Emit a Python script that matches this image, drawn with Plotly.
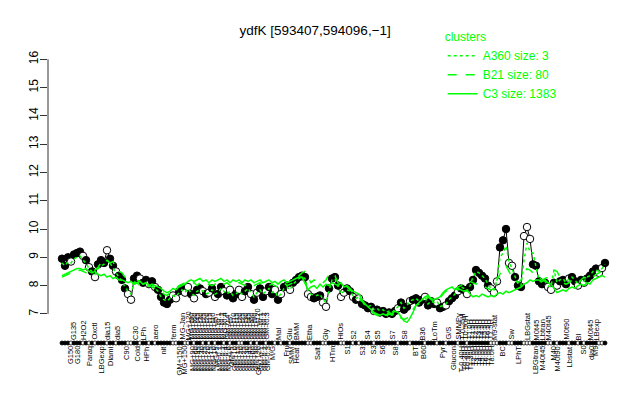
import plotly.graph_objects as go

# ---------------- data ----------------
expr = [8.95, 8.7, 9.0, 8.85, 9.1, 9.15, 9.2, 9.05, 8.9, 8.65,
        8.5, 8.3, 8.75, 8.9, 8.8, 9.25, 8.95, 8.7, 8.5, 8.35,
        8.2, 7.9, 7.7, 7.5, 8.25, 8.35, 8.25, 8.1, 8.2, 8.05,
        8.15, 7.95, 7.85, 7.6, 7.4, 7.35, 7.5, 7.65, 7.55, 7.8,
        7.9, 7.75, 7.95, 7.7, 7.55, 7.85, 7.9, 7.8, 7.7, 7.75,
        7.9, 7.6, 7.7, 7.95, 7.8, 7.65, 7.85, 7.55, 7.7, 7.85,
        7.6, 7.8, 7.95, 7.7, 7.5, 7.75, 7.9, 7.6, 7.8, 7.95,
        7.7, 7.85, 7.5, 7.7, 7.95, 8.0, 7.85, 8.1, 8.2, 8.3,
        8.35, 8.3, 7.7, 7.6, 7.55, 7.6, 7.65, 7.4, 7.25, 7.9,
        8.25, 8.3, 8.0, 7.6, 7.75, 7.9, 7.8, 7.6, 7.5, 7.55,
        7.35, 7.3, 7.2, 7.25, 7.1, 7.15, 7.05, 7.1, 7.0, 7.05,
        7.0, 7.1, 7.2, 7.4, 7.15, 7.25, 7.45, 7.5, 7.55, 7.4,
        7.5, 7.6, 7.3, 7.45, 7.35, 7.4, 7.2, 7.25, 7.3, 7.45,
        7.55, 7.65, 7.8, 7.9, 7.85, 7.7, 7.95, 8.2, 8.55, 8.45,
        8.35, 8.25, 8.0, 7.9, 7.75, 8.15, 9.35, 9.6, 10.0, 8.8,
        8.7, 8.3, 8.0, 7.95, 9.75, 10.07, 9.65, 8.75, 8.7, 8.15,
        8.05, 8.1, 7.95, 7.85, 8.1, 8.0, 8.15, 8.2, 8.05, 8.25,
        8.3, 8.15, 8.0, 8.2, 8.1, 8.25, 8.35, 8.5, 8.6, 8.45, 8.62, 8.8]

filled_flags = ("1110111010" "1011101101" "1100110110" "1011111001" "1001011010"
                "1011010110" "0110101101" "1010110111" "1100111001" "1110011010"
                "1111011111" "1101110111" "1011101101" "1101101111" "1110001110"
                "0111000111" "1100101110" "1101011110" "01")
filled = [c == "1" for c in filled_flags]

c3_mean = [8.35, 8.4, 8.45, 8.5, 8.55, 8.6, 8.6, 8.55, 8.6, 8.5,
           8.45, 8.5, 8.4, 8.35, 8.4, 8.3, 8.35, 8.25, 8.3, 8.2,
           8.2, 8.15, 8.1, 8.15, 8.05, 8.1, 8.15, 8.05, 8.1, 8.0,
           8.05, 8.0, 7.95, 7.9, 7.8, 7.75, 7.8, 7.9, 7.85, 7.95,
           8.0, 8.05, 8.15, 8.2, 8.15, 8.2, 8.25, 8.15, 8.2, 8.1,
           8.2, 8.15, 8.2, 8.25, 8.15, 8.2, 8.1, 8.2, 8.15, 8.2,
           8.1, 8.2, 8.15, 8.2, 8.1, 8.15, 8.2, 8.1, 8.15, 8.2,
           8.1, 8.15, 8.05, 8.15, 8.2, 8.1, 8.15, 8.2, 8.25, 8.3,
           8.3, 8.1, 7.85, 7.95, 8.0, 7.9, 8.05, 7.95, 8.05, 8.0,
           8.1, 8.05, 8.0, 8.1, 7.95, 8.0, 7.9, 7.8, 7.75, 7.7,
           7.5, 7.35, 7.25, 7.15, 7.05, 7.0, 6.95, 7.0, 6.95, 7.05,
           7.0, 7.1, 7.05, 6.9, 6.75, 6.7, 6.85, 7.05, 7.3, 7.4,
           7.5, 7.6, 7.65, 7.55, 7.5, 7.55, 7.6, 7.75, 7.85, 7.9,
           7.95, 7.85, 7.9, 7.85, 7.8, 7.85, 7.7, 7.6, 7.65, 7.6,
           7.7, 7.65, 7.6, 7.65, 7.6, 7.7, 7.75, 7.7, 7.8, 7.75,
           7.8, 7.85, 7.9, 7.95, 8.05, 8.1, 8.2, 8.15, 8.2, 8.2,
           8.15, 8.2, 8.1, 8.05, 7.9, 7.75, 7.8, 7.85, 7.8, 7.9,
           7.95, 7.9, 8.0, 8.05, 8.0, 8.1, 8.05, 8.2, 8.25, 8.3, 8.35, 8.3]

b21_mean = [8.3, 8.35, 8.4, 8.45, 8.5, 8.5, 8.55, 8.5, 8.45, 8.4,
            8.5, 8.55, 8.65, 8.8, 8.85, 8.9, 8.8, 8.85, 8.6, 8.5,
            8.45, 8.3, 8.2, 8.1, 8.05, 8.1, 8.0, 8.05, 7.95, 8.0,
            7.95, 7.9, 7.85, 7.8, 7.7, 7.65, 7.75, 7.85, 7.9, 8.0,
            8.05, 8.1, 8.1, 8.05, 8.1, 8.0, 8.1, 8.05, 8.0, 8.05,
            8.0, 8.05, 8.1, 8.0, 8.05, 8.1, 8.0, 8.05, 8.0, 8.1,
            8.05, 8.0, 8.1, 8.05, 8.0, 8.05, 8.1, 8.0, 8.05, 8.0,
            8.05, 8.0, 7.95, 8.05, 8.1, 8.0, 8.05, 8.1, 8.2, 8.35,
            8.45, 8.5, 8.3, 8.1, 8.2, 8.15, 8.05, 8.1, 8.2, 8.4,
            8.3, 8.35, 8.1, 8.0, 8.05, 7.95, 7.85, 7.75, 7.7, 7.6,
            7.45, 7.3, 7.2, 7.1, 7.0, 6.95, 6.9, 6.95, 6.9, 7.0,
            6.95, 7.05, 7.0, 6.85, 6.8, 6.85, 7.0, 7.15, 7.3, 7.35,
            7.4, 7.5, 7.6, 7.5, 7.45, 7.5, 7.55, 7.7, 7.8, 7.85,
            7.9, 7.85, 7.95, 8.0, 8.1, 8.2, 8.15, 8.1, 8.05, 8.1,
            8.0, 7.95, 7.9, 7.85, 7.9, 8.2, 8.4, 8.6, 8.7, 8.5,
            8.3, 8.2, 8.1, 8.2, 8.4, 8.6, 8.55, 8.45, 8.35, 8.3,
            8.2, 8.25, 8.3, 8.45, 8.55, 8.5, 8.3, 8.1, 8.05, 8.1,
            8.2, 8.15, 8.1, 8.2, 8.3, 8.25, 8.2, 8.3, 8.4, 8.45, 8.5, 8.55]

a360_mean = [8.8, 8.7, 8.85, 8.8, 8.95, 9.0, 9.05, 8.9, 8.8, 8.6,
             8.5, 8.4, 8.6, 8.7, 8.75, 8.9, 8.8, 8.6, 8.45, 8.3,
             8.15, 7.95, 7.8, 7.7, 8.1, 8.2, 8.15, 8.05, 8.1, 8.0,
             8.05, 7.9, 7.8, 7.6, 7.5, 7.45, 7.55, 7.65, 7.6, 7.75,
             7.85, 7.75, 7.9, 7.75, 7.65, 7.8, 7.85, 7.8, 7.7, 7.75,
             7.85, 7.7, 7.75, 7.9, 7.8, 7.7, 7.8, 7.65, 7.7, 7.8,
             7.7, 7.8, 7.9, 7.75, 7.6, 7.75, 7.85, 7.7, 7.8, 7.9,
             7.75, 7.8, 7.6, 7.7, 7.9, 7.95, 7.85, 8.05, 8.15, 8.25,
             8.3, 8.25, 7.8, 7.7, 7.65, 7.65, 7.7, 7.5, 7.4, 7.85,
             8.2, 8.25, 8.0, 7.7, 7.8, 7.85, 7.8, 7.65, 7.55, 7.6,
             7.4, 7.35, 7.25, 7.3, 7.15, 7.2, 7.1, 7.15, 7.05, 7.1,
             7.05, 7.15, 7.25, 7.4, 7.2, 7.3, 7.45, 7.5, 7.55, 7.45,
             7.5, 7.6, 7.35, 7.45, 7.4, 7.45, 7.25, 7.3, 7.35, 7.5,
             7.6, 7.7, 7.85, 7.95, 7.9, 7.8, 8.0, 8.3, 8.5, 8.45,
             8.35, 8.25, 8.05, 7.9, 7.85, 8.2, 9.0, 9.15, 9.4, 8.85,
             8.6, 8.3, 8.05, 8.0, 8.9, 9.5, 9.2, 9.15, 8.7, 8.2,
             8.1, 8.15, 8.0, 7.95, 8.55, 8.1, 8.2, 8.25, 8.1, 8.25,
             8.3, 8.2, 8.05, 8.2, 8.15, 8.3, 8.35, 8.5, 8.55, 8.5, 8.6, 8.75]

# condition labels (bottom row / top row) with their condition index
bottom_labels = (["G150", "G180", "Paraq", "LBGexp", "Diami", "C90", "Cold", "HPh", "nit",
                  "GM+150", "MG+150"]
                 + ["MG+90", "MG+60", "MG+45", "MG+30", "MG+25", "MG+20", "MG+15", "MG+10",
                    "MG+5", "MG-0.1", "MG-0.2", "MG-0.4", "MG-0.6", "GM+5", "GM+10", "GM+15",
                    "GM+20", "GM+25", "GM+30", "GM+45", "GM+60", "GM+90", "GM+120", "GM-0.1",
                    "GM-0.2", "GM-0.3"]
                 + ["M/G", "Fru", "SMM", "Heat", "Salt", "HTm", "S1", "S3", "S3", "S6", "S8",
                    "BT", "B60", "Pyr", "Glucon"]
                 + ["T-0.40H", "T0.30H", "T0.90H", "T1.30H", "T2.0H", "T3.0H", "T4.0H",
                    "T5.0H", "T6.0H", "T7.0H", "T8.0H"]
                 + ["BC", "LPhT", "LBGtran", "M40t45", "M40", "M40t90", "Lbstat", "S0",
                    "dia0", "M9"])
bottom_pos = ([2.7, 5, 9, 13.3, 16, 21.3, 25.3, 28.3, 33.7, 39.3, 40.7]
              + [43.5, 44.5, 45.5, 46.5, 47.5, 48.5, 49.5, 50.5, 51.5, 52.5, 53.5, 54.5, 55.5,
                 56.5, 57.5, 58.5, 59.5, 60.5, 61.5, 62.5, 63.5, 64.5, 65.5, 66.5, 67.5, 68.5]
              + [70, 74.7, 76.3, 78.3, 85, 90, 95, 100.3, 103.7, 106.7, 111.3,
                 117.7, 120.5, 126.7, 130.3]
              + [133, 134, 135, 136, 137, 138, 139, 140, 141, 142, 143]
              + [146.7, 152, 157.7, 160, 163.7, 165.3, 169.3, 173.7, 176.3, 177.7])

top_labels = (["G135", "H2O2", "Oxctl", "dia15", "dia5", "C30", "LPh", "aero", "ferm",
               "MG-Jan", "MG+120"]
              + ["MG+t90", "MG+t60", "MG+t45", "MG+t30", "MG+t25", "MG+t20", "MG+t15",
                 "MG+t10", "MG+t5", "MG-t0.1", "MG-t0.2", "MG-t0.4", "GM-0.4", "GM+t5",
                 "GM+t10", "GM+t15", "GM+t20", "GM+t25", "GM+t30", "GM+t45", "GM+t60",
                 "GM+t90", "GM+t120", "GM-t0.1", "GM-t0.2", "GM-t0.3"]
              + ["Mal", "Glu", "BMM", "Etha", "Gly", "HiOs", "S2", "S4", "S5", "S7", "S8",
                 "B36", "LoTm", "G/S", "SMMPy"]
              + ["T-0.25H", "T0.50H", "T1.0H", "T1.5H", "T2.5H", "T3.5H", "T4.5H",
                 "T5.5H", "T6.5H", "T7.5H"]
              + ["M9-stat", "Sw", "LBGstat", "M0t45", "Lbtran", "M40t45", "M0t90", "BI",
                 "M0t45", "LBexp"])
top_pos = ([3.7, 7, 10.7, 15, 18.3, 24.3, 27.3, 31, 37, 40, 42.3]
           + [43, 44, 45, 46, 47, 48, 49, 50, 51, 52, 53, 54, 55, 56, 57, 58, 59, 60, 61,
              62, 63, 64, 65, 66, 67, 68]
           + [72, 75.7, 78, 82.3, 87.7, 92.7, 97, 101.7, 105, 110, 114,
              120.3, 124.3, 128.7, 132]
           + [133.5, 134.5, 135.5, 136.5, 137.5, 138.5, 139.5, 140.5, 141.5, 142.5]
           + [144, 149.7, 155, 158.3, 160.3, 162.3, 168, 172.3, 176.3, 178.3])

y_ticks = [7, 8, 9, 10, 11, 12, 13, 14, 15, 16]
title_text = "ydfK [593407,594096,\u22121]"
cluster_names = ["A360 size: 3", "B21 size: 80", "C3 size: 1383"]

# ---------------- figure ----------------
idx = list(range(len(expr)))
GREEN = "#00ff00"
FONT = "Liberation Sans, Arial, sans-serif"
RUG_Y = 5.97
Y_MAX = 16.4

fig = go.Figure()

# data line + points
fig.add_trace(go.Scatter(
    x=idx, y=expr, mode="lines+markers", showlegend=False, hoverinfo="skip",
    line=dict(color="black", width=1),
    marker=dict(size=7.5, symbol="circle",
                color=["black" if f else "white" for f in filled],
                line=dict(color="black", width=1))))

# cluster lines
for name, vals, dash in zip(cluster_names, [a360_mean, b21_mean, c3_mean],
                            ["dot", "dash", "solid"]):
    fig.add_trace(go.Scatter(
        x=idx, y=vals, mode="lines", name=name, hoverinfo="skip",
        line=dict(color=GREEN, width=1.5, dash=dash)))

# rug of condition markers along the axis
fig.add_trace(go.Scatter(
    x=idx, y=[RUG_Y] * len(idx), mode="markers", showlegend=False, hoverinfo="skip",
    cliponaxis=False,
    marker=dict(size=4, symbol="circle",
                color=["black" if f else "white" for f in filled],
                line=dict(color="black", width=0.8))))

x_range = [-4.667, 186.0]

# condition labels: lower row hangs below the rug, upper row stands above it
annotations = []
for txt, p in zip(bottom_labels, bottom_pos):
    annotations.append(dict(x=p, y=RUG_Y, xref="x", yref="y", text=txt, showarrow=False,
                            textangle=-90, xanchor="center", yanchor="top", yshift=-2,
                            borderpad=0, font=dict(size=7.5, family=FONT, color="black")))
for txt, p in zip(top_labels, top_pos):
    annotations.append(dict(x=p, y=RUG_Y, xref="x", yref="y", text=txt, showarrow=False,
                            textangle=-90, xanchor="center", yanchor="bottom", yshift=2,
                            borderpad=0, font=dict(size=7.5, family=FONT, color="black")))

# page has an 8px body margin; figure is sized/positioned to compensate
fig.update_layout(
    width=632, height=392,
    margin=dict(l=40, r=20, t=39.7, b=56.8, autoexpand=False),
    paper_bgcolor="white", plot_bgcolor="white",
    font=dict(family=FONT, color="black"),
    title=dict(text=title_text, x=0.486, xanchor="center", y=0.944, yanchor="middle",
               font=dict(size=13.5, color="black", family=FONT)),
    xaxis=dict(range=x_range, showticklabels=False, ticks="",
               showgrid=False, zeroline=False, showline=False, automargin=False),
    yaxis=dict(range=[RUG_Y, Y_MAX], tickmode="array", tickvals=y_ticks,
               ticks="outside", ticklen=7, tickcolor="#333", tickangle=-90,
               ticklabelstandoff=-3,
               tickfont=dict(size=12, family=FONT), showgrid=False, zeroline=False,
               showline=False, automargin=False),
    legend=dict(x=0.690, xanchor="left", y=1.076, yanchor="top",
                bgcolor="rgba(0,0,0,0)", borderwidth=0,
                font=dict(size=12, color=GREEN, family=FONT),
                title=dict(text="clusters", font=dict(size=12, color=GREEN, family=FONT)),
                tracegroupgap=0, itemwidth=30),
    annotations=annotations,
    shapes=[dict(type="line", xref="paper", yref="y", x0=0, x1=0, y0=7, y1=16,
                 line=dict(color="#333", width=1))],
)

fig.write_html("out.html")
